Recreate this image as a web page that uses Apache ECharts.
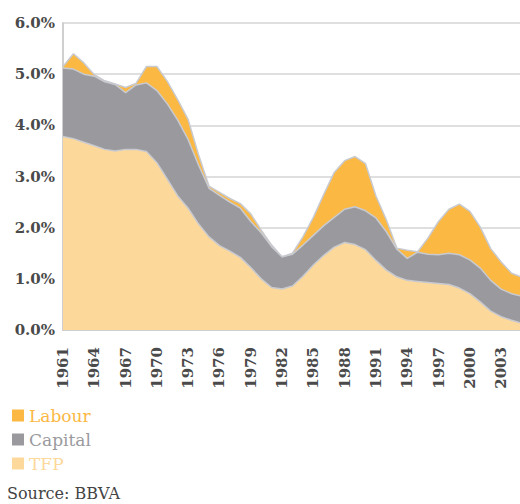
<!DOCTYPE html>
<html>
<head>
    <meta charset="utf-8">
    <title>TFP, Capital, Labour</title>
    <script src="https://cdn.jsdelivr.net/npm/echarts@6/dist/echarts.min.js"></script>
</head>
<body style="margin:0">
    <div id="main" style="width:520px;height:504px;"></div>
    <script type="text/javascript">
        // years on the x axis
        var years = [];
        for (var y = 1961; y <= 2005; y++) years.push(String(y));

        // contributions, percentage points
        var tfp = [3.78, 3.74, 3.67, 3.60, 3.53, 3.50, 3.53, 3.53, 3.49, 3.27,
                   2.95, 2.62, 2.38, 2.07, 1.82, 1.65, 1.54, 1.42, 1.22, 1.00,
                   0.83, 0.80, 0.86, 1.05, 1.27, 1.46, 1.62, 1.71, 1.67, 1.57,
                   1.36, 1.17, 1.04, 0.97, 0.95, 0.93, 0.91, 0.89, 0.82, 0.71,
                   0.55, 0.37, 0.26, 0.19, 0.13];
        var capital = [1.34, 1.36, 1.33, 1.36, 1.32, 1.30, 1.11, 1.26, 1.34, 1.41,
                       1.47, 1.48, 1.34, 1.15, 0.95, 0.98, 0.96, 0.96, 0.90, 0.90,
                       0.80, 0.63, 0.62, 0.61, 0.58, 0.58, 0.58, 0.65, 0.74, 0.76,
                       0.83, 0.75, 0.54, 0.43, 0.57, 0.55, 0.56, 0.61, 0.65, 0.66,
                       0.66, 0.60, 0.54, 0.52, 0.53];
        var labour = [0.03, 0.30, 0.22, 0.03, 0.02, 0.01, 0.10, 0.03, 0.32, 0.47,
                      0.44, 0.40, 0.39, 0.20, 0.04, 0.06, 0.07, 0.09, 0.15, 0.05,
                      0.03, 0.00, 0.02, 0.16, 0.35, 0.61, 0.88, 0.95, 0.98, 0.92,
                      0.43, 0.23, 0.02, 0.16, 0.01, 0.32, 0.65, 0.86, 0.99, 0.95,
                      0.80, 0.62, 0.53, 0.40, 0.37];

        var colLabour = '#fbb843';
        var colCapital = '#9a9a9e';
        var colTfp = '#fcd89b';
        var font = 'DejaVu Serif';

        function area(name, data, color) {
            return {
                name: name,
                type: 'line',
                stack: 'growth',
                data: data,
                symbol: 'none',
                lineStyle: { color: '#c8cad0', width: 1.5 },
                itemStyle: { color: color },
                areaStyle: { color: color, opacity: 1 }
            };
        }

        // svg renderer (rotated labels)
        var myChart = echarts.init(document.getElementById('main'), null, { renderer: 'svg' });
        var option = {
            animation: false,
            grid: { left: 63, right: -2, top: 23, bottom: 174, outerBoundsMode: 'none' },
            legend: {
                orient: 'vertical',
                left: 7,
                top: 402,
                itemWidth: 12,
                itemHeight: 12,
                itemGap: 7,
                icon: 'rect',
                textStyle: { fontFamily: font, fontSize: 17 },
                data: [
                    { name: 'Labour', textStyle: { color: colLabour } },
                    { name: 'Capital', textStyle: { color: colCapital } },
                    { name: 'TFP', textStyle: { color: colTfp } }
                ]
            },
            xAxis: {
                type: 'category',
                data: years,
                boundaryGap: false,
                axisLine: { lineStyle: { color: '#cfcfcf', width: 2 } },
                axisTick: { show: false },
                axisLabel: {
                    interval: 2,
                    rotate: 90,
                    hideOverlap: false,
                    margin: 17,
                    color: '#4a4a4a',
                    fontFamily: font,
                    fontWeight: 'bold',
                    fontSize: 15
                }
            },
            yAxis: {
                type: 'value',
                min: 0,
                max: 6,
                interval: 1,
                axisLine: { show: true, lineStyle: { color: '#cfcfcf', width: 2 } },
                axisTick: { show: false },
                splitLine: { lineStyle: { color: '#d4d4d4', width: 1.5 } },
                axisLabel: {
                    margin: 8,
                    color: '#4a4a4a',
                    fontFamily: font,
                    fontWeight: 'bold',
                    fontSize: 15,
                    formatter: function (v) { return v.toFixed(1) + '%'; }
                }
            },
            graphic: [{
                type: 'text',
                left: 7,
                top: 485,
                style: { text: 'Source: BBVA', font: '16px "DejaVu Serif"', fill: '#444' }
            }],
            series: [
                area('TFP', tfp, colTfp),
                area('Capital', capital, colCapital),
                area('Labour', labour, colLabour)
            ]
        };
        myChart.setOption(option);
    </script>
</body>
</html>
